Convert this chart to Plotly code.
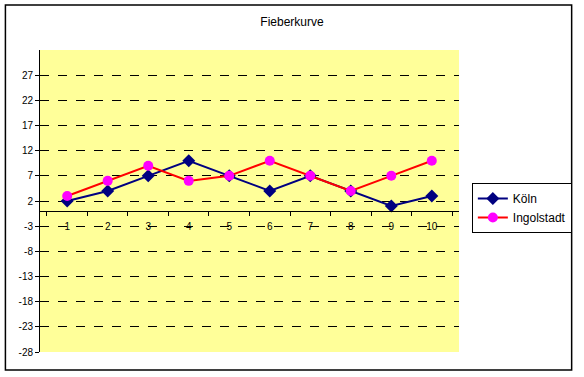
import plotly.graph_objects as go

categories = ["1", "2", "3", "4", "5", "6", "7", "8", "9", "10"]
koeln = [2, 4, 7, 10, 7, 4, 7, 4, 1, 3]
ingolstadt = [3, 6, 9, 6, 7, 10, 7, 4, 7, 10]
y_ticks = [-28, -23, -18, -13, -8, -3, 2, 7, 12, 17, 22, 27]
y_tick_labels = [str(v) for v in y_ticks]
y_min, y_max = -28, 32

W, H = 584, 377
L, R, T, B = 40, 120, 50, 25
pw, ph = W - L - R, H - T - B

def px_x(x):
    return (x - L) / pw

def px_y(y):
    return (H - B - y) / ph

font = "Liberation Sans"

fig = go.Figure()
fig.add_trace(go.Scatter(
    x=categories, y=koeln, name="Köln", mode="lines+markers",
    line=dict(color="#000080", width=2),
    marker=dict(symbol="diamond", size=10, color="#000080"),
))
fig.add_trace(go.Scatter(
    x=categories, y=ingolstadt, name="Ingolstadt", mode="lines+markers",
    line=dict(color="#FF0000", width=2),
    marker=dict(symbol="circle", size=10, color="#FF00FF"),
))

zero_pos = (0 - y_min) / (y_max - y_min)

fig.update_layout(
    width=W, height=H,
    margin=dict(l=L, r=R, t=T, b=B),
    paper_bgcolor="white",
    plot_bgcolor="#FFFF99",
    title=dict(text="Fieberkurve", x=0.5, xanchor="center", y=1 - 22 / H, yanchor="middle",
               font=dict(family=font, size=12, color="black")),
    font=dict(family=font, size=10, color="black"),
    showlegend=True,
    legend=dict(x=px_x(477), y=px_y(183), xanchor="left", yanchor="top",
                bordercolor="black", borderwidth=1, bgcolor="white",
                font=dict(family=font, size=12), tracegroupgap=2,
                itemwidth=30),
    xaxis=dict(
        type="category", categoryorder="array", categoryarray=categories,
        anchor="free", position=zero_pos,
        showline=True, linecolor="black", linewidth=1,
        ticks="outside", ticklen=4, tickcolor="black", tickson="boundaries",
        ticklabelstandoff=6,
        showgrid=False, zeroline=False,
        tickfont=dict(family=font, size=10),
    ),
    yaxis=dict(
        range=[y_min, y_max], tickvals=y_ticks, ticktext=y_tick_labels,
        showline=True, linecolor="black", linewidth=1,
        ticks="outside", ticklen=4, tickcolor="black",
        showgrid=True, gridcolor="black", griddash="dash", gridwidth=1,
        zeroline=False,
        tickfont=dict(family=font, size=10),
    ),
    shapes=[dict(
        type="rect", xref="paper", yref="paper",
        x0=px_x(5), x1=px_x(578), y0=px_y(370), y1=px_y(5),
        line=dict(color="black", width=1.5), fillcolor="rgba(0,0,0,0)", layer="below",
    )],
)

fig.write_html("out.html", config={"displayModeBar": False},
               post_script="document.body.style.margin='0';document.body.style.overflow='hidden';")
